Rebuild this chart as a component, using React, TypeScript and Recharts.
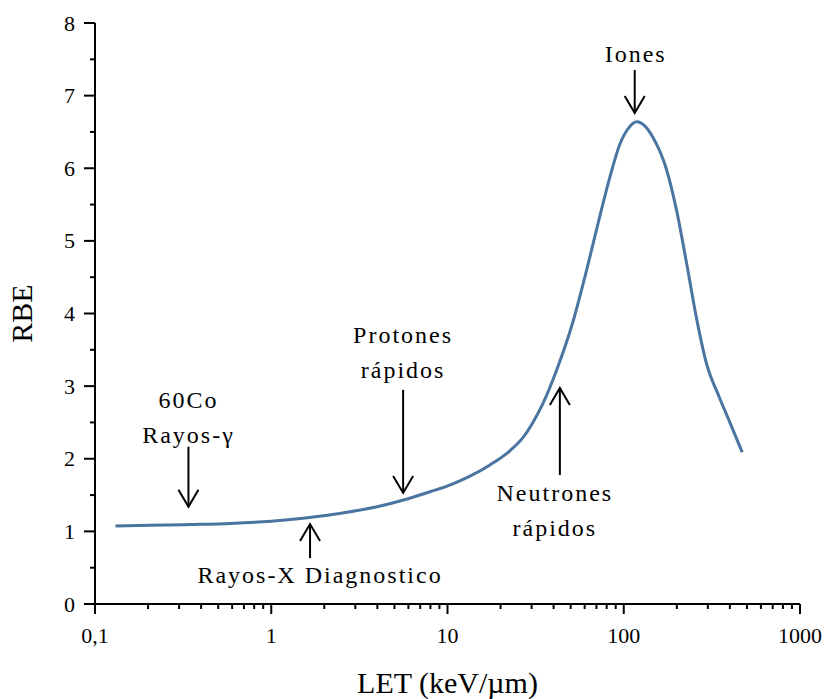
import React from 'react';
import { LineChart, Line, XAxis, YAxis, ReferenceDot, Label } from 'recharts';

const LET_VALUES = [0.1306, 0.2063, 0.3476, 0.5858, 1, 1.518, 2.492, 3.986, 5.973, 7.959, 10.74, 13.41, 17.41, 22.6, 26.78, 30.51, 34.76, 41.73, 51.4, 61.6, 73, 83.5, 95, 107, 118.7, 132, 146, 175, 199, 227, 258, 294, 348, 400, 470];
const RBE_VALUES = [1.075, 1.083, 1.095, 1.11, 1.14, 1.18, 1.25, 1.34, 1.45, 1.545, 1.655, 1.76, 1.915, 2.11, 2.29, 2.5, 2.76, 3.23, 3.88, 4.6, 5.33, 5.88, 6.33, 6.56, 6.64, 6.58, 6.43, 5.98, 5.43, 4.7, 3.95, 3.32, 2.85, 2.5, 2.09];

const X_MAJOR = [0.1, 1, 10, 100, 1000];
const X_MAJOR_LABELS = ['0,1', '1', '10', '100', '1000'];
const X_MINOR = [0.2, 0.3, 0.4, 0.5, 0.6, 0.7, 0.8, 0.9, 2, 3, 4, 5, 6, 7, 8, 9, 20, 30, 40, 50, 60, 70, 80, 90, 200, 300, 400, 500, 600, 700, 800, 900];
const Y_MAJOR = [0, 1, 2, 3, 4, 5, 6, 7, 8];
const Y_MINOR = [0.5, 1.5, 2.5, 3.5, 4.5, 5.5, 6.5, 7.5];

// Annotation arrows: tip at data point, arrow pointing down or up
const ANNOTATIONS = [
  { x: 0.339, y: 1.34, dir: 'down', len: 60, lines: ['60Co', 'Rayos-γ'], dx: 0, dy: [-99, -64] },
  { x: 5.6, y: 1.53, dir: 'down', len: 103, lines: ['Protones', 'rápidos'], dx: 0, dy: [-150, -115] },
  { x: 1.66, y: 1.1, dir: 'up', len: 34, lines: ['Rayos-X Diagnostico'], dx: 10, dy: [59] },
  { x: 43.4, y: 2.975, dir: 'up', len: 87, lines: ['Neutrones', 'rápidos'], dx: -5, dy: [113, 148] },
  { x: 115.4, y: 6.76, dir: 'down', len: 43, lines: ['Iones'], dx: 1, dy: [-51] },
];

const data = LET_VALUES.map((v, i) => ({ let: v, rbe: RBE_VALUES[i] }));
const FONT = "'Liberation Serif', 'Times New Roman', serif";
const fontStyle = { fontFamily: FONT };

const XTick = (props: any) => {
  const { x, y, payload } = props;
  const v = payload.value;
  const idx = X_MAJOR.indexOf(v);
  const major = idx >= 0;
  return (
    <g>
      <line x1={x} x2={x} y1={y} y2={y + (major ? 10 : 5)} stroke="#000" strokeWidth={2} />
      {major && (
        <text x={x} y={y + 39} textAnchor="middle" fontSize={22} fontFamily={FONT} style={fontStyle} fill="#000">
          {X_MAJOR_LABELS[idx]}
        </text>
      )}
    </g>
  );
};

const YTick = (props: any) => {
  const { x, y, payload } = props;
  const v = payload.value;
  const major = Y_MAJOR.includes(v);
  return (
    <g>
      <line x1={x} x2={x - (major ? 11 : 5)} y1={y} y2={y} stroke="#000" strokeWidth={2} />
      {major && (
        <text x={x - 20} y={y + 7.5} textAnchor="end" fontSize={22} fontFamily={FONT} style={fontStyle} fill="#000">
          {String(v)}
        </text>
      )}
    </g>
  );
};

const arrowShape = (a: any) => (props: any) => {
  const { cx, cy } = props;
  const s = a.dir === 'down' ? -1 : 1;
  const tail = cy + s * a.len;
  const head = cy + s * 17;
  return (
    <g>
      <line x1={cx} x2={cx} y1={tail} y2={cy} stroke="#000" strokeWidth={2} />
      <polyline points={`${cx - 10},${head} ${cx},${cy} ${cx + 10},${head}`} fill="none" stroke="#000" strokeWidth={2} />
      {a.lines.map((t: string, i: number) => (
        <text key={i} x={cx + a.dx} y={cy + a.dy[i]} textAnchor="middle" fontSize={24} letterSpacing={2} fontFamily={FONT} style={fontStyle} fill="#000">
          {t}
        </text>
      ))}
    </g>
  );
};

export default function App() {
  return (
    <div style={{ position: 'absolute', left: 0, top: 0, fontFamily: FONT }}>
      <LineChart width={827} height={699} data={data} margin={{ top: 23, right: 27, bottom: 0, left: 0 }}>
        <XAxis
          dataKey="let"
          type="number"
          scale="log"
          domain={[0.1, 1000]}
          allowDataOverflow
          ticks={[...X_MAJOR, ...X_MINOR]}
          interval={0}
          tickSize={0}
          tickMargin={0}
          tickLine={false}
          tick={<XTick />}
          axisLine={{ stroke: '#000', strokeWidth: 2 }}
          height={95}
        >
          <Label
            content={(p: any) => {
              const vb = p.viewBox;
              return (
                <text x={vb.x + vb.width / 2} y={vb.y + 89} textAnchor="middle" fontSize={30} fontFamily={FONT} style={fontStyle} fill="#000">
                  LET (keV/µm)
                </text>
              );
            }}
          />
        </XAxis>
        <XAxis
          xAxisId="top"
          orientation="top"
          type="number"
          scale="log"
          domain={[0.1, 1000]}
          allowDataOverflow
          tick={false}
          tickLine={false}
          axisLine={{ stroke: '#000', strokeWidth: 2 }}
          height={0}
        />
        <YAxis
          type="number"
          domain={[0, 8]}
          ticks={[...Y_MAJOR, ...Y_MINOR]}
          interval={0}
          tickSize={0}
          tickMargin={0}
          tickLine={false}
          tick={<YTick />}
          axisLine={{ stroke: '#000', strokeWidth: 2 }}
          width={95}
        >
          <Label
            content={(p: any) => {
              const vb = p.viewBox;
              const cx = 32;
              const cy = vb.y + vb.height / 2;
              return (
                <text x={cx} y={cy} transform={`rotate(-90, ${cx}, ${cy})`} textAnchor="middle" fontSize={30} fontFamily={FONT} style={fontStyle} fill="#000">
                  RBE
                </text>
              );
            }}
          />
        </YAxis>
        <YAxis
          yAxisId="right"
          orientation="right"
          type="number"
          domain={[0, 8]}
          tick={false}
          tickLine={false}
          axisLine={{ stroke: '#888', strokeWidth: 1 }}
          width={0}
        />
        <Line
          type="monotone"
          dataKey="rbe"
          stroke="#4a75a1"
          strokeWidth={3}
          dot={false}
          isAnimationActive={false}
        />
        {ANNOTATIONS.map((a, i) => (
          <ReferenceDot key={i} x={a.x} y={a.y} r={0} ifOverflow="visible" shape={arrowShape(a)} />
        ))}
      </LineChart>
    </div>
  );
}
